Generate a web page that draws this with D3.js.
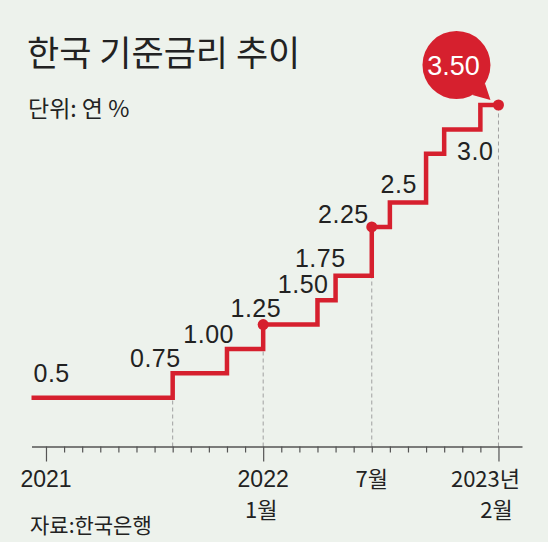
<!DOCTYPE html>
<html>
<head>
<meta charset="utf-8">
<script src="https://cdn.jsdelivr.net/npm/d3@7"></script>
<style>
  html, body { margin: 0; padding: 0; background: #edf2ec; }
  svg { display: block; }
  .num  { font-family: "Liberation Sans", Arial, sans-serif; fill: #222; }
  .kor  { font-family: "Noto Sans CJK KR", "Noto Sans", sans-serif; fill: #222; }
</style>
</head>
<body>
<svg id="chart" width="548" height="542"></svg>
<script>
// month index: 0 = Jan 2021
const stepMonths = [-0.8, 7, 10, 12, 15, 16, 18, 19, 21, 22, 24];
const stepRates  = [0.5, 0.75, 1.00, 1.25, 1.50, 1.75, 2.25, 2.50, 3.00, 3.25, 3.50];
const endMonth   = 25;                       // Feb 2023
const rateLabels = ['0.5', '0.75', '1.00', '1.25', '1.50', '1.75', '2.25', '2.5', '3.0', null, '3.50'];

const dotMonths  = [12, 18, 25];
const dashMonths = [7, 12, 18, 25];
const tickMonths = d3.range(0, 26);
const majorTicks = [0, 12, 25];

const axisLabels = [
  { m: 0,  lines: ['2021'] },
  { m: 12, lines: ['2022', '1월'] },
  { m: 18, lines: ['7월'] },
  { m: 25, lines: ['2023년', '2월'] },
];

const RED = '#d6202e';

const svg = d3.select('#chart');

const x = d3.scaleLinear().domain([-0.8, 26.3]).range([31.5, 522]);
const y = d3.scaleLinear().domain([0, 3.5]).range([446.5, 105]);

// ── Titles ─────────────────────────────────────────────────────
svg.append('text').attr('class', 'kor')
  .attr('x', 27).attr('y', 66)
  .style('font-size', '35px').style('font-weight', 400)
  .text('한국 기준금리 추이');

svg.append('text').attr('class', 'kor')
  .attr('x', 28).attr('y', 117)
  .style('font-size', '23px')
  .text('단위: 연 %');

svg.append('text').attr('class', 'kor')
  .attr('x', 30).attr('y', 533)
  .style('font-size', '21px')
  .text('자료:한국은행');

// ── Step series ────────────────────────────────────────────────
const pts = stepMonths.map((m, i) => ({ m, r: stepRates[i] }));
pts.push({ m: endMonth, r: stepRates[stepRates.length - 1] });

const rateAt = m => {
  let r = stepRates[0];
  stepMonths.forEach((sm, i) => { if (sm < m) r = stepRates[i]; });
  return r;
};

// dashed guides from axis up to the line
svg.append('g').selectAll('line')
  .data(dashMonths)
  .join('line')
    .attr('x1', d => x(d)).attr('x2', d => x(d))
    .attr('y1', y(0))
    .attr('y2', d => y(rateAt(d)))
    .attr('stroke', '#a0a0a0')
    .attr('stroke-width', 1)
    .attr('stroke-dasharray', '4 3');

// axis
const axis = d3.axisBottom(x)
  .tickValues(tickMonths)
  .tickSize(6)
  .tickSizeOuter(0)
  .tickFormat('');

const gAxis = svg.append('g')
  .attr('transform', `translate(0,${y(0)})`)
  .call(axis);
gAxis.select('.domain').attr('stroke', '#555').attr('stroke-width', 1.6);
gAxis.selectAll('.tick line')
  .attr('stroke', '#555')
  .attr('stroke-width', 1.2)
  .attr('y2', d => majorTicks.includes(d) ? 15 : 6);

const line = d3.line()
  .x(d => x(d.m))
  .y(d => y(d.r))
  .curve(d3.curveStepAfter);

svg.append('path')
  .datum(pts)
  .attr('fill', 'none')
  .attr('stroke', RED)
  .attr('stroke-width', 4.5)
  .attr('stroke-linejoin', 'miter')
  .attr('d', line);

svg.append('g').selectAll('circle')
  .data(dotMonths)
  .join('circle')
    .attr('cx', d => x(d))
    .attr('cy', d => y(rateAt(d + 0.01)))
    .attr('r', 5.5)
    .attr('fill', RED);

// ── Rate labels ───────────────────────────────────────────────
// offsets from each step's start point
const labelLayout = [
  { anchor: 'start', dx: 2,   dy: -16 },
  { anchor: 'end',   dx: 8,   dy: -6 },
  { anchor: 'end',   dx: 7,   dy: -6 },
  { anchor: 'end',   dx: 18,  dy: -8 },
  { anchor: 'end',   dx: 11,  dy: -7 },
  { anchor: 'end',   dx: 10,  dy: -9 },
  { anchor: 'end',   dx: -3,  dy: -4 },
  { anchor: 'end',   dx: 27,  dy: -10 },
  { anchor: 'start', dx: 31,  dy: 6 },
  null,
  null,
];

svg.append('g').selectAll('text')
  .data(pts.slice(0, stepMonths.length).map((p, i) => ({ ...p, label: rateLabels[i], lay: labelLayout[i] }))
    .filter(d => d.label && d.lay))
  .join('text')
    .attr('class', 'num')
    .attr('x', d => x(d.m) + d.lay.dx)
    .attr('y', d => y(d.r) + d.lay.dy)
    .attr('text-anchor', d => d.lay.anchor)
    .style('font-size', '25px')
    .style('letter-spacing', '0.5px')
    .text(d => d.label);

// ── Bubble for the latest rate ────────────────────────────────
const last = pts[pts.length - 1];
const bx = x(last.m) - 42, by = y(last.r) - 40, br = 34;
const a1 = 33 * Math.PI / 180, a2 = 62 * Math.PI / 180;
const bubble = svg.append('g');
bubble.append('path')
  .attr('d', `M${bx + br * Math.cos(a1)},${by + br * Math.sin(a1)}
              L${x(last.m) - 8},${y(last.r) - 5}
              L${bx + br * Math.cos(a2)},${by + br * Math.sin(a2)}Z`)
  .attr('fill', RED);
bubble.append('circle')
  .attr('cx', bx).attr('cy', by).attr('r', br)
  .attr('fill', RED);
bubble.append('text')
  .attr('class', 'num')
  .attr('x', bx - 3).attr('y', by + 10)
  .attr('text-anchor', 'middle')
  .style('font-size', '27px')
  .style('fill', '#fff')
  .text(rateLabels[rateLabels.length - 1]);

// ── Axis labels ───────────────────────────────────────────────
const axisLayout = { 0: 0, 12: 0, 18: 0, 25: -13 };
const gLab = svg.append('g');
axisLabels.forEach(a => {
  a.lines.forEach((t, j) => {
    gLab.append('text')
      .attr('class', /[0-9]/.test(t) && !/[월년]/.test(t) ? 'num' : 'kor')
      .attr('x', x(a.m) + (j === 0 ? axisLayout[a.m] : -2))
      .attr('y', 487 + j * 31)
      .attr('text-anchor', 'middle')
      .style('font-size', /[월년]/.test(t) ? '22px' : '23px')
      .text(t);
  });
});
</script>
</body>
</html>
